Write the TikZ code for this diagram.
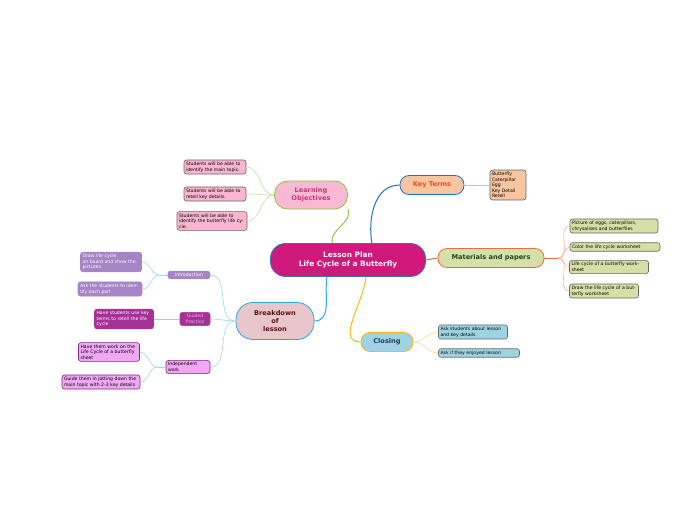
\documentclass[tikz,border=0pt]{standalone}
\usepackage{fontspec}
\setmainfont{DejaVu Sans}
\begin{document}
\begin{tikzpicture}[x=1pt,y=-1pt,
  leaf/.style={draw=#1!70!black!60!gray,rounded corners=2.5pt,line width=0.6pt,inner sep=2pt,font=\fontsize{4.6}{5.6}\selectfont,align=left,anchor=center},
  br/.style={rounded corners=9pt,line width=0.8pt,font=\bfseries\fontsize{6.6}{8}\selectfont,align=center,inner sep=0pt},
  cn/.style={line width=0.6pt}]
\useasboundingbox (0,0) rectangle (697,520);
\definecolor{cmag}{HTML}{D0197A}
% central
\node[br,draw={rgb,255:red,60;green,110;blue,200},fill=cmag,text=white,minimum width=155pt,minimum height=33pt,rounded corners=15pt,font=\bfseries\fontsize{7.4}{9}\selectfont] (c) at (348,260) {Lesson Plan\\Life Cycle of a Butterfly};
% branches
\node[br,draw={rgb,255:red,140;green,198;blue,63},fill={rgb,255:red,249;green,185;blue,212},text={rgb,255:red,192;green,57;blue,122},minimum width=73pt,minimum height=28pt,rounded corners=13pt] (lo) at (311,195) {Learning\\Objectives};
\node[br,draw={rgb,255:red,31;green,111;blue,208},fill={rgb,255:red,247;green,197;blue,159},text={rgb,255:red,240;green,78;blue,30},minimum width=64pt,minimum height=19pt] (kt) at (432,185) {Key Terms};
\node[br,draw={rgb,255:red,242;green,107;blue,58},fill={rgb,255:red,213;green,224;blue,169},text={rgb,255:red,30;green,70;blue,30},minimum width=106pt,minimum height=19pt] (mp) at (491,258) {Materials and papers};
\node[br,draw={rgb,255:red,249;green,184;blue,12},fill={rgb,255:red,157;green,212;blue,228},text={rgb,255:red,40;green,60;blue,80},minimum width=52pt,minimum height=19pt] (cl) at (387,342) {Closing};
\node[br,draw={rgb,255:red,41;green,168;blue,224},fill={rgb,255:red,232;green,198;blue,203},text={rgb,255:red,90;green,20;blue,20},minimum width=78pt,minimum height=37pt,rounded corners=17pt] (bd) at (275,321) {Breakdown\\of\\lesson};
% LO leaves
\tikzset{pk/.style={leaf=pink,fill={rgb,255:red,251;green,182;blue,207},draw=gray!80!black}}
\node[pk,text width=58pt] (lo1) at (215,167) {Students will be able to identify the main topic.};
\node[pk,text width=58pt] (lo2) at (215,194) {Students will be able to retell key details.};
\node[pk,text width=66pt] (lo3) at (212,221) {Students will be able to identify the butterfly life cycle.};
\foreach \n in {lo1,lo2,lo3}{\draw[cn,draw={rgb,255:red,190;green,225;blue,140}] (lo.west) to[out=180,in=0] (\n.east);}
\draw[cn,draw={rgb,255:red,140;green,198;blue,63},line width=1pt] (c.north west) ++(62,0) to[out=100,in=-70] (lo.south east);
% KT
\node[leaf=orange,fill={rgb,255:red,247;green,197;blue,159},draw=gray!80!black,text width=32pt] (kt1) at (508,185) {Butterfly\\Caterpillar\\Egg\\Key Detail\\Retell};
\draw[cn,draw={rgb,255:red,170;green,200;blue,240},line width=1pt] (kt.east) -- (kt1.west);
\draw[cn,draw={rgb,255:red,31;green,111;blue,208},line width=1pt] (372,244) to[out=100,in=180] (kt.west);
% MP
\tikzset{gn/.style={leaf=green,fill={rgb,255:red,214;green,224;blue,166},draw=gray!80!black}}
\node[gn,text width=84pt] (m1) at (614,226) {Picture of eggs, caterpillars, chrysalises and butterflies};
\node[gn,text width=86pt] (m2) at (615,247) {Color the life cycle worksheet};
\node[gn,text width=75pt] (m3) at (609,267) {Life cycle of a butterfly worksheet};
\node[gn,text width=65pt] (m4) at (604,291) {Draw the life cycle of a butterfly worksheet};
\foreach \n in {m1,m2,m3,m4}{\draw[cn,draw={rgb,255:red,250;green,175;blue,150}] ([xshift=14pt]mp.east) to[out=0,in=180] (\n.west);}
\draw[cn,draw={rgb,255:red,242;green,107;blue,58},line width=1pt] (mp.east) -- ++(14,0);
\draw[cn,draw={rgb,255:red,242;green,107;blue,58},line width=1pt] (c.east) -- (mp.west);
% Closing
\tikzset{bl/.style={leaf=cyan,fill={rgb,255:red,157;green,212;blue,228},draw=gray!80!black}}
\node[bl,text width=65pt] (cl1) at (473,332) {Ask students about lesson and key details};
\node[bl,text width=77pt] (cl2) at (479,353) {Ask if they enjoyed lesson};
\foreach \n in {cl1,cl2}{\draw[cn,draw={rgb,255:red,252;green,215;blue,140}] (cl.east) to[out=0,in=180] (\n.west);}
\draw[cn,draw={rgb,255:red,249;green,184;blue,12},line width=1pt] (366,277) to[out=-95,in=180] (cl.west);
% Breakdown
\draw[cn,draw={rgb,255:red,41;green,168;blue,224},line width=1pt] (327,277) to[out=-100,in=0] (bd.east);
\node[leaf=violet,fill={rgb,255:red,165;green,133;blue,198},draw={rgb,255:red,165;green,133;blue,198},text=white,minimum width=42pt,align=center] (in) at (189,275) {Introduction};
\node[leaf=violet,fill={rgb,255:red,165;green,133;blue,198},draw={rgb,255:red,165;green,133;blue,198},text=white,text width=57pt] (in1) at (111,262) {Draw life cycle\\ on board and show the pictures.};
\node[leaf=violet,fill={rgb,255:red,165;green,133;blue,198},draw={rgb,255:red,165;green,133;blue,198},text=white,text width=60pt] (in2) at (110,289) {Ask the students to identify each part};
\node[leaf=violet,fill={rgb,255:red,166;green,48;blue,150},draw={rgb,255:red,166;green,48;blue,150},text={rgb,255:red,240;green,180;blue,230},minimum width=30pt,align=center] (gp) at (195,319) {Guided\\Practice};
\node[leaf=violet,fill={rgb,255:red,166;green,48;blue,150},draw={rgb,255:red,166;green,48;blue,150},text=white,text width=55pt] (gp1) at (124,319) {Have students use key terms to retell the life cycle};
\tikzset{pu/.style={leaf=violet,fill={rgb,255:red,240;green,168;blue,244},draw=violet!70!gray}}
\node[pu,text width=40pt] (iw) at (188,367) {Independent work};
\node[pu,text width=57pt] (iw1) at (109,352) {Have them work on the Life Cycle of a butterfly sheet};
\node[pu,text width=74pt] (iw2) at (101,382) {Guide them in jotting down the main topic with 2-3 key details};
\tikzset{lb/.style={cn,draw={rgb,255:red,150;green,215;blue,240}}}
\foreach \n in {in,gp,iw}{\draw[lb] (bd.west) to[out=180,in=0] (\n.east);}
\foreach \n in {in1,in2}{\draw[lb] ([xshift=-8pt]in.west) to[out=180,in=0] (\n.east);}
\draw[lb] (in.west) -- ++(-8,0);
\draw[lb] (gp.west) -- (gp1.east);
\foreach \n in {iw1,iw2}{\draw[lb] ([xshift=-8pt]iw.west) to[out=180,in=0] (\n.east);}
\draw[lb] (iw.west) -- ++(-8,0);
\end{tikzpicture}
\end{document}
